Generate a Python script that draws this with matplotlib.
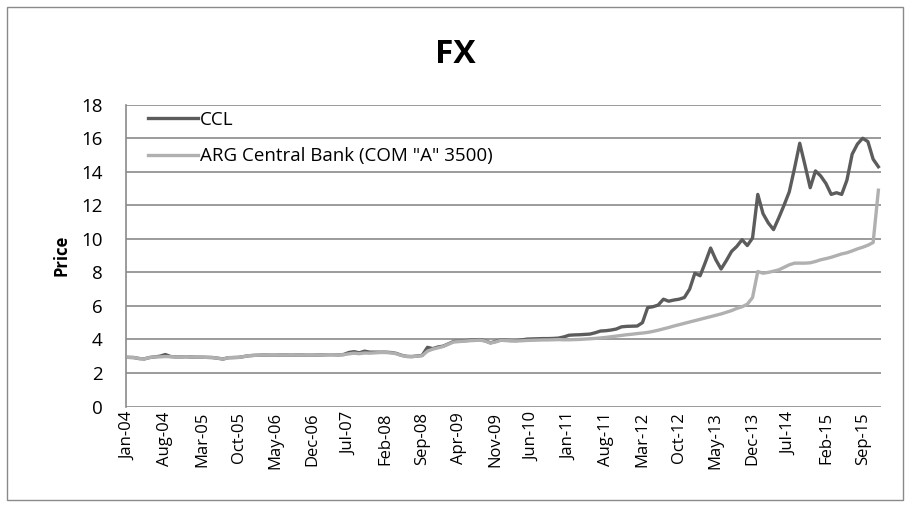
import matplotlib
matplotlib.use("Agg")
import matplotlib.pyplot as plt
from matplotlib.patches import Rectangle
import numpy as np
import pandas as pd

# monthly categories, Jan-04 .. Dec-15
months = pd.date_range("2004-01-01", periods=144, freq="MS").strftime("%b-%y").tolist()

ccl = [
    2.93, 2.92, 2.86, 2.84, 2.92, 2.96, 3.00, 3.10, 2.98, 2.96, 2.96, 2.97,
    2.95, 2.94, 2.94, 2.93, 2.92, 2.88, 2.83, 2.91, 2.92, 2.93, 2.98, 3.03,
    3.05, 3.06, 3.07, 3.06, 3.06, 3.07, 3.07, 3.06, 3.07, 3.07, 3.06, 3.06,
    3.07, 3.08, 3.09, 3.09, 3.08, 3.10, 3.22, 3.27, 3.20, 3.30, 3.24, 3.24,
    3.24, 3.24, 3.22, 3.17, 3.06, 2.99, 2.98, 3.01, 3.05, 3.53, 3.45, 3.55,
    3.60, 3.74, 3.88, 3.89, 3.92, 3.95, 3.97, 3.99, 3.92, 3.80, 3.88, 3.97,
    3.95, 3.93, 3.93, 3.97, 4.02, 4.03, 4.04, 4.05, 4.05, 4.06, 4.08, 4.15,
    4.25, 4.27, 4.28, 4.30, 4.32, 4.40, 4.50, 4.52, 4.56, 4.62, 4.75, 4.78,
    4.79, 4.80, 5.00, 5.90, 5.95, 6.05, 6.40, 6.28, 6.35, 6.40, 6.50, 7.00,
    7.95, 7.80, 8.60, 9.45, 8.75, 8.20, 8.70, 9.25, 9.55, 9.95, 9.60, 10.05,
    12.65, 11.50, 10.95, 10.55, 11.25, 12.00, 12.80, 14.20, 15.70, 14.40, 13.05, 14.05,
    13.75, 13.30, 12.65, 12.75, 12.65, 13.50, 15.05, 15.65, 16.00, 15.80, 14.75, 14.30,
]

bcra = [
    2.93, 2.92, 2.86, 2.84, 2.92, 2.96, 2.96, 2.98, 2.97, 2.96, 2.96, 2.97,
    2.95, 2.94, 2.94, 2.93, 2.92, 2.88, 2.83, 2.91, 2.92, 2.93, 2.98, 3.03,
    3.05, 3.06, 3.07, 3.06, 3.06, 3.07, 3.07, 3.06, 3.07, 3.07, 3.06, 3.06,
    3.07, 3.08, 3.09, 3.09, 3.08, 3.09, 3.14, 3.18, 3.15, 3.19, 3.18, 3.20,
    3.22, 3.22, 3.20, 3.15, 3.05, 2.98, 2.97, 3.00, 3.03, 3.30, 3.42, 3.50,
    3.58, 3.72, 3.85, 3.87, 3.90, 3.92, 3.94, 3.96, 3.90, 3.78, 3.85, 3.95,
    3.93, 3.92, 3.91, 3.92, 3.94, 3.95, 3.96, 3.97, 3.97, 3.98, 3.99, 3.98,
    3.98, 3.99, 4.00, 4.02, 4.04, 4.06, 4.09, 4.12, 4.16, 4.20, 4.24, 4.28,
    4.31, 4.35, 4.38, 4.42, 4.48, 4.55, 4.63, 4.71, 4.80, 4.88, 4.96, 5.04,
    5.12, 5.20, 5.28, 5.36, 5.44, 5.52, 5.62, 5.72, 5.85, 5.95, 6.10, 6.50,
    8.05, 7.95, 8.00, 8.07, 8.15, 8.30, 8.45, 8.55, 8.55, 8.55, 8.57, 8.65,
    8.75, 8.82, 8.90, 9.00, 9.10, 9.17, 9.28, 9.40, 9.50, 9.62, 9.78, 12.90,
]

series_labels = ["CCL", 'ARG Central Bank (COM "A" 3500)']
yticks = [0, 2, 4, 6, 8, 10, 12, 14, 16, 18]
label_step = 7

DARK = "#5c5c5c"
LIGHT = "#b0b0b0"
GRID = "#8a8a8a"

plt.rcParams["font.family"] = ["Open Sans", "DejaVu Sans"]

W, H = 910, 507
fig = plt.figure(figsize=(W / 100, H / 100), dpi=100)

# chart-area border
fig.patches.append(Rectangle((7 / W, 1 - 500 / H), 896 / W, 493 / H,
                             transform=fig.transFigure, fill=False,
                             edgecolor=GRID, linewidth=1.0))

left, right, top, bottom = 126, 881, 104.7, 406.5
ax = fig.add_axes([left / W, 1 - bottom / H, (right - left) / W, (bottom - top) / H])

x = np.arange(len(months))
ax.plot(x, ccl, color=DARK, linewidth=2.4, solid_joinstyle="round",
        label=series_labels[0], zorder=3)
ax.plot(x, bcra, color=LIGHT, linewidth=2.4, solid_joinstyle="round",
        label=series_labels[1], zorder=4)

ax.set_xlim(-0.5, len(months) - 0.5)
ax.set_ylim(0, 18)
ax.set_yticks(yticks)
ax.yaxis.grid(True, color=GRID, linewidth=1.2)
ax.set_axisbelow(True)
for side in ["top", "right", "bottom"]:
    ax.spines[side].set_visible(False)
ax.spines["left"].set_color(GRID)
ax.spines["left"].set_linewidth(1.2)

tick_pos = x[::label_step]
ax.set_xticks(tick_pos)
ax.set_xticklabels([months[i] for i in tick_pos], rotation=90, fontsize=12)
ax.tick_params(axis="x", length=0, pad=4)
ax.tick_params(axis="y", length=0, pad=17, labelsize=13.5)

ax.set_ylabel("Price", fontsize=12, fontweight="bold")
ax.yaxis.set_label_coords((71 - left) / (right - left), 0.5)

fig.text(0.5, 1 - 63.3 / H, "FX", ha="center", va="baseline",
         fontsize=24, fontweight="bold")

handles, labels = ax.get_legend_handles_labels()
ax.legend(handles, labels, loc="upper left", frameon=False,
          bbox_to_anchor=(22 / (right - left), 1 - 6 / (bottom - top)),
          borderaxespad=0, borderpad=0, fontsize=13.5,
          handlelength=2.67, handletextpad=0.1, labelspacing=1.0)

fig.savefig("out.png", dpi=100)
